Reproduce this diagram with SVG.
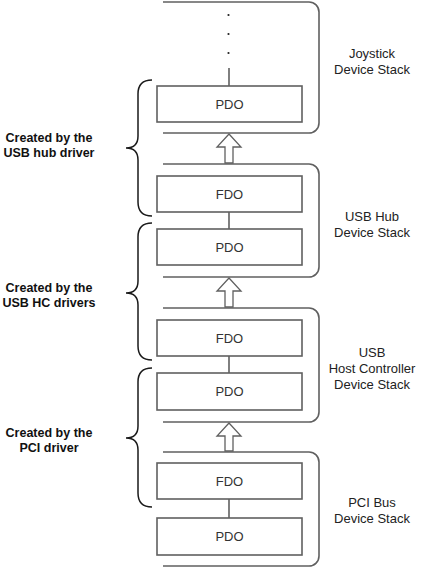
<svg xmlns="http://www.w3.org/2000/svg" width="429" height="567" viewBox="0 0 429 567">
<style>
.stack{fill:none;stroke:#606060;stroke-width:1.6}
.box{fill:#fff;stroke:#606060;stroke-width:1.6}
.ln{stroke:#606060;stroke-width:1.6;fill:none}
.arr{fill:#fff;stroke:#606060;stroke-width:1.3}
.brace{fill:none;stroke:#1a1a1a;stroke-width:1.5}
.bt{font-family:"Liberation Sans",Arial,sans-serif;font-size:13px;fill:#333;text-anchor:middle}
.rt{font-family:"Liberation Sans",Arial,sans-serif;font-size:13px;fill:#222;text-anchor:middle}
.lt{font-family:"Liberation Sans",Arial,sans-serif;font-size:12.5px;font-weight:bold;fill:#111;text-anchor:middle}
</style>
<rect width="429" height="567" fill="#fff"/>
<g id="connectors">
<line class="ln" x1="229" y1="68" x2="229" y2="86"/>
<line class="ln" x1="229" y1="212" x2="229" y2="229"/>
<line class="ln" x1="229" y1="356" x2="229" y2="373"/>
<line class="ln" x1="229" y1="499" x2="229" y2="518"/>
<path class="arr" d="M229,134 L241,147 L233,147 L233,163 L225,163 L225,147 L217,147 Z"/>
<path class="arr" d="M229,278 L241,291 L233,291 L233,307 L225,307 L225,291 L217,291 Z"/>
<path class="arr" d="M229,423 L241,436 L233,436 L233,451 L225,451 L225,436 L217,436 Z"/>
</g>
<g id="joystick-stack">
<path class="stack" d="M163,2 H309 A10,10 0 0 1 319,12 V123 A10,10 0 0 1 309,133 H163"/>
<circle cx="228.5" cy="15" r="1.1" fill="#222"/>
<circle cx="228.5" cy="34" r="1.1" fill="#222"/>
<circle cx="228.5" cy="53" r="1.1" fill="#222"/>
<text class="rt" x="372" y="58">Joystick</text>
<text class="rt" x="372" y="74">Device Stack</text>
</g>
<g id="joystick-pdo">
<rect class="box" x="157" y="86" width="145" height="36"/>
<text class="bt" x="229.5" y="108.5">PDO</text>
</g>
<g id="hub-stack">
<path class="stack" d="M163,164 H309 A10,10 0 0 1 319,174 V267 A10,10 0 0 1 309,277 H163"/>
<text class="rt" x="372" y="221">USB Hub</text>
<text class="rt" x="372" y="237">Device Stack</text>
</g>
<g id="hub-fdo">
<rect class="box" x="157" y="176" width="145" height="36"/>
<text class="bt" x="229.5" y="198.5">FDO</text>
</g>
<g id="hub-pdo">
<rect class="box" x="157" y="229" width="145" height="36"/>
<text class="bt" x="229.5" y="251.5">PDO</text>
</g>
<g id="hc-stack">
<path class="stack" d="M163,308 H309 A10,10 0 0 1 319,318 V412 A10,10 0 0 1 309,422 H163"/>
<text class="rt" x="372" y="357">USB</text>
<text class="rt" x="372" y="373">Host Controller</text>
<text class="rt" x="372" y="389">Device Stack</text>
</g>
<g id="hc-fdo">
<rect class="box" x="157" y="320" width="145" height="36"/>
<text class="bt" x="229.5" y="342.5">FDO</text>
</g>
<g id="hc-pdo">
<rect class="box" x="157" y="373" width="145" height="37"/>
<text class="bt" x="229.5" y="396">PDO</text>
</g>
<g id="pci-stack">
<path class="stack" d="M163,452 H309 A10,10 0 0 1 319,462 V556 A10,10 0 0 1 309,566 H163"/>
<text class="rt" x="372" y="507">PCI Bus</text>
<text class="rt" x="372" y="523">Device Stack</text>
</g>
<g id="pci-fdo">
<rect class="box" x="157" y="463" width="145" height="36"/>
<text class="bt" x="229.5" y="485.5">FDO</text>
</g>
<g id="pci-pdo">
<rect class="box" x="157" y="518" width="145" height="37"/>
<text class="bt" x="229.5" y="541">PDO</text>
</g>
<g id="brace-hub">
<path class="brace" d="M152,80 Q138,80 138,94 V136 Q138,148 126,148 Q138,148 138,160 V202 Q138,216 152,216"/>
<text class="lt" x="49" y="142">Created by the</text>
<text class="lt" x="49" y="157">USB hub driver</text>
</g>
<g id="brace-hc">
<path class="brace" d="M152,223 Q138,223 138,237 V281 Q138,293 126,293 Q138,293 138,305 V346 Q138,360 152,360"/>
<text class="lt" x="49" y="292">Created by the</text>
<text class="lt" x="49" y="307">USB HC drivers</text>
</g>
<g id="brace-pci">
<path class="brace" d="M152,368 Q138,368 138,382 V426 Q138,438 126,438 Q138,438 138,450 V493 Q138,507 152,507"/>
<text class="lt" x="49" y="437">Created by the</text>
<text class="lt" x="49" y="452">PCI driver</text>
</g>
</svg>
